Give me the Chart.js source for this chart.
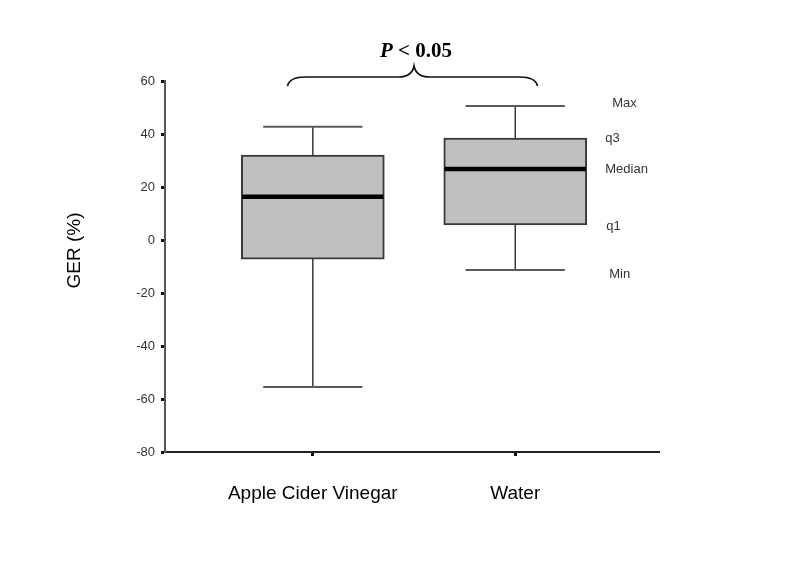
<!DOCTYPE html>
<html>
<head>
<meta charset="utf-8">
<script src="https://cdn.jsdelivr.net/npm/chart.js@4.4.0/dist/chart.umd.min.js"></script>
<style>
  html, body { margin: 0; padding: 0; background: #ffffff; }
  #wrap { width: 785px; height: 588px; }
</style>
</head>
<body>
<div id="wrap"><canvas id="c" width="785" height="588"></canvas></div>
<script>
// ---- data ----
const categories = ['Apple Cider Vinegar', 'Water'];
const positions = [1, 2];
const mins = [-55.5, -11.3];
const q1s = [-7.2, 5.7];
const medians = [16.3, 26.8];
const q3s = [32.0, 38.5];
const maxs = [42.7, 50.6];
const yTickValues = [-80, -60, -40, -20, 0, 20, 40, 60];
const statLabels = ['Max', 'q3', 'Median', 'q1', 'Min'];
const yTitle = 'GER (%)';
const pTextItalic = 'P';
const pTextRest = ' < 0.05';

const boxPlugin = {
  id: 'boxExtras',
  beforeDatasetsDraw(chart) {
    const {ctx, scales: {x, y}} = chart;
    ctx.save();
    positions.forEach((p, i) => {
      const cx = x.getPixelForValue(p);
      const capL = x.getPixelForValue(p - 0.245);
      const capR = x.getPixelForValue(p + 0.245);
      ctx.strokeStyle = '#3a3a3a';
      ctx.lineWidth = 1.5;
      ctx.beginPath();
      ctx.moveTo(cx, y.getPixelForValue(maxs[i]));
      ctx.lineTo(cx, y.getPixelForValue(q3s[i]));
      ctx.moveTo(cx, y.getPixelForValue(q1s[i]));
      ctx.lineTo(cx, y.getPixelForValue(mins[i]));
      ctx.stroke();
      ctx.strokeStyle = '#5a5a5a';
      ctx.lineWidth = 2;
      ctx.beginPath();
      ctx.moveTo(capL, y.getPixelForValue(maxs[i]));
      ctx.lineTo(capR, y.getPixelForValue(maxs[i]));
      ctx.moveTo(capL, y.getPixelForValue(mins[i]));
      ctx.lineTo(capR, y.getPixelForValue(mins[i]));
      ctx.stroke();
    });
    ctx.restore();
  },
  afterDatasetsDraw(chart) {
    const {ctx, scales: {x, y}, chartArea} = chart;
    const meta = chart.getDatasetMeta(0);
    ctx.save();
    meta.data.forEach((bar, i) => {
      const half = bar.width / 2;
      const my = y.getPixelForValue(medians[i]);
      ctx.strokeStyle = '#000000';
      ctx.lineWidth = 4.5;
      ctx.beginPath();
      ctx.moveTo(bar.x - half + 1, my);
      ctx.lineTo(bar.x + half - 1, my);
      ctx.stroke();
    });
    const last = positions.length - 1;
    const vals = [maxs[last], q3s[last], medians[last], q1s[last], mins[last]];
    const nudgeX = [7, 0, 0, 1, 4];
    const nudgeY = [-2, 0, 0, 2, 4];
    const lx = x.getPixelForValue(positions[last]) + 90;
    ctx.fillStyle = '#333333';
    ctx.font = '13px "Liberation Sans", Arial, sans-serif';
    ctx.textAlign = 'left';
    ctx.textBaseline = 'middle';
    statLabels.forEach((t, k) => {
      ctx.fillText(t, lx + nudgeX[k], y.getPixelForValue(vals[k]) + nudgeY[k]);
    });
    // brace
    const bl = x.getPixelForValue(0.875);
    const br = x.getPixelForValue(2.11);
    const bm = x.getPixelForValue(1.5);
    const top = chartArea.top;
    const yEnd = top + 5, yFlat = top - 4, yTip = top - 15;
    ctx.strokeStyle = '#111111';
    ctx.lineWidth = 1.6;
    ctx.beginPath();
    ctx.moveTo(bl, yEnd);
    ctx.quadraticCurveTo(bl + 2, yFlat, bl + 18, yFlat);
    ctx.lineTo(bm - 16, yFlat);
    ctx.quadraticCurveTo(bm - 2, yFlat, bm, yTip);
    ctx.quadraticCurveTo(bm + 2, yFlat, bm + 16, yFlat);
    ctx.lineTo(br - 18, yFlat);
    ctx.quadraticCurveTo(br - 2, yFlat, br, yEnd);
    ctx.stroke();
    // P < 0.05
    ctx.fillStyle = '#000000';
    ctx.textBaseline = 'alphabetic';
    const fI = 'italic bold 21px "Liberation Serif", "Times New Roman", serif';
    const fR = 'bold 21px "Liberation Serif", "Times New Roman", serif';
    ctx.font = fI; const wI = ctx.measureText(pTextItalic).width;
    ctx.font = fR; const wR = ctx.measureText(pTextRest).width;
    const sx = bm + 2 - (wI + wR) / 2;
    const ty = top - 24;
    ctx.font = fI; ctx.textAlign = 'left'; ctx.fillText(pTextItalic, sx, ty);
    ctx.font = fR; ctx.fillText(pTextRest, sx + wI, ty);
    // y axis title
    ctx.save();
    ctx.translate(75, (y.top + y.bottom) / 2 - 16);
    ctx.rotate(-Math.PI / 2);
    ctx.font = '19px "Liberation Sans", Arial, sans-serif';
    ctx.fillStyle = '#000000';
    ctx.textAlign = 'center';
    ctx.textBaseline = 'middle';
    ctx.fillText(yTitle, 0, 0);
    ctx.restore();
    ctx.restore();
  }
};

new Chart(document.getElementById('c'), {
  type: 'bar',
  data: {
    datasets: [{
      data: positions.map((p, i) => ({x: p, y: [q1s[i], q3s[i]]})),
      backgroundColor: '#c0c0c0',
      borderColor: '#3a3a3a',
      borderWidth: 2,
      borderSkipped: false,
      barThickness: 143
    }]
  },
  options: {
    responsive: false,
    animation: false,
    devicePixelRatio: 1,
    layout: { padding: { left: 55, right: 126, top: 81, bottom: 76 } },
    plugins: { legend: { display: false }, tooltip: { enabled: false } },
    scales: {
      x: {
        type: 'linear',
        min: 0.27,
        max: 2.71,
        offset: false,
        afterBuildTicks: (s) => { s.ticks = positions.map(v => ({value: v})); },
        afterFit: (s) => { s.height = 60; },
        ticks: {
          callback: (v) => categories[positions.indexOf(v)],
          font: { family: '"Liberation Sans", Arial, sans-serif', size: 19 },
          color: '#000000',
          padding: 26,
          maxRotation: 0,
          autoSkip: false
        },
        grid: { display: true, offset: false, drawOnChartArea: false, drawTicks: true, tickLength: 4, tickWidth: 3, tickColor: '#111111' },
        border: { display: true, color: '#222222', width: 2 }
      },
      y: {
        min: -80,
        max: 60,
        afterBuildTicks: (s) => { s.ticks = yTickValues.map(v => ({value: v})); },
        afterFit: (s) => { s.width = 110; },
        ticks: {
          font: { family: '"Liberation Sans", Arial, sans-serif', size: 13 },
          color: '#333333',
          padding: 6
        },
        grid: { display: true, drawOnChartArea: false, drawTicks: true, tickLength: 4, tickWidth: 3, tickColor: '#111111' },
        border: { display: true, color: '#555555', width: 2 }
      }
    }
  },
  plugins: [boxPlugin]
});
</script>
</body>
</html>
